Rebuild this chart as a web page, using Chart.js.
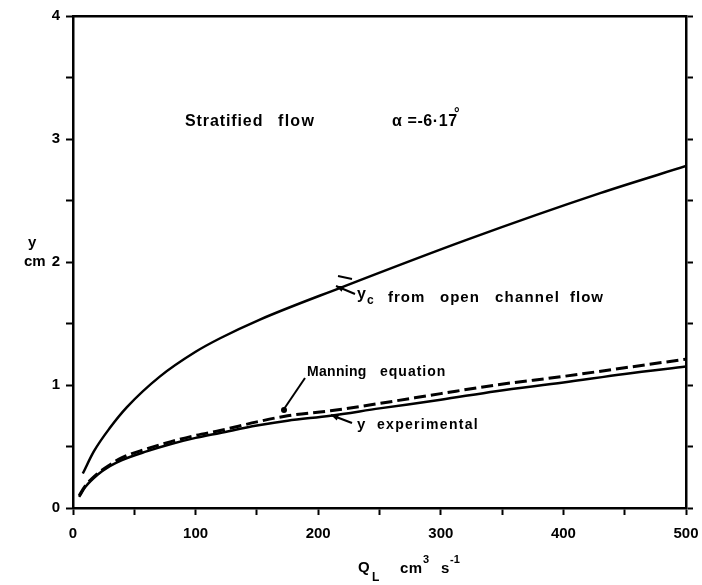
<!DOCTYPE html>
<html><head><meta charset="utf-8">
<script src="https://cdn.jsdelivr.net/npm/chart.js@4/dist/chart.umd.min.js"></script>
<style>html,body{margin:0;padding:0;background:#fff}canvas{display:block}</style>
</head><body>
<canvas id="c" width="702" height="585"></canvas>
<script>
// Q_L (cm^3/s) and depth y (cm)
const qOpenChannel = [8, 17, 30, 44, 71, 100, 120, 152, 218, 321, 430, 500];
const yOpenChannel = [0.28, 0.46, 0.65, 0.82, 1.07, 1.27, 1.38, 1.53, 1.79, 2.18, 2.56, 2.78];

const qLower = [5, 10, 20, 30, 40, 60, 80, 100, 120, 150, 175, 210, 250, 300, 345, 400, 450, 500];
const yExperimental = [0.09, 0.17, 0.27, 0.34, 0.39, 0.46, 0.52, 0.57, 0.61, 0.67, 0.71, 0.75, 0.81, 0.88, 0.95, 1.02, 1.09, 1.15];
const yManning = [0.10, 0.18, 0.28, 0.35, 0.41, 0.48, 0.54, 0.59, 0.63, 0.70, 0.75, 0.79, 0.85, 0.93, 1.00, 1.07, 1.14, 1.21];

const xTickLabels = [0, 100, 200, 300, 400, 500];
const yTickLabels = [0, 1, 2, 3, 4];

const FONT = '"Liberation Sans", Arial, sans-serif';
const pts = (xs, ys) => xs.map((x, i) => ({x, y: ys[i]}));

function txt(ctx, s, x, y, size, spacing) {
  ctx.font = `bold ${size}px ${FONT}`;
  ctx.letterSpacing = spacing + 'px';
  ctx.textAlign = 'left';
  ctx.textBaseline = 'middle';
  ctx.fillStyle = '#000';
  ctx.fillText(s, x, y);
}
function arrow(ctx, x1, y1, x2, y2) {
  ctx.beginPath(); ctx.moveTo(x1, y1); ctx.lineTo(x2, y2); ctx.stroke();
  const a = Math.atan2(y2 - y1, x2 - x1), L = 8;
  ctx.beginPath();
  ctx.moveTo(x2, y2);
  ctx.lineTo(x2 - L * Math.cos(a - 0.4), y2 - L * Math.sin(a - 0.4));
  ctx.lineTo(x2 - L * Math.cos(a + 0.4), y2 - L * Math.sin(a + 0.4));
  ctx.closePath(); ctx.fill();
}

const annot = {
  id: 'annot',
  beforeDraw(chart) {
    const ctx = chart.ctx;
    ctx.save(); ctx.fillStyle = '#fff'; ctx.fillRect(0, 0, chart.width, chart.height); ctx.restore();
  },
  afterDraw(chart) {
    const ctx = chart.ctx;
    ctx.save();
    ctx.strokeStyle = '#000'; ctx.fillStyle = '#000'; ctx.lineWidth = 2;
    // title texts
    txt(ctx, 'Stratified', 185, 122, 16, 0.9);
    txt(ctx, 'flow', 278, 122, 16, 1.3);
    txt(ctx, 'α =-6·17', 392, 122, 16, 0.6);
    txt(ctx, '°', 454, 114, 14, 0);
    // y_c label
    txt(ctx, 'y', 357, 295, 16, 0);
    txt(ctx, 'c', 367, 301, 12, 0);
    txt(ctx, 'from', 388, 298, 15, 1);
    txt(ctx, 'open', 440, 298, 15, 1);
    txt(ctx, 'channel', 495, 298, 15, 1.2);
    txt(ctx, 'flow', 570, 298, 15, 1);
    arrow(ctx, 355, 294, 336, 286);
    ctx.beginPath(); ctx.moveTo(338, 276); ctx.lineTo(352, 279); ctx.stroke();
    // Manning equation
    txt(ctx, 'Manning', 307, 372, 14, 0.3);
    txt(ctx, 'equation', 380, 372, 14, 1);
    ctx.beginPath(); ctx.moveTo(305, 378); ctx.lineTo(284, 409); ctx.stroke();
    ctx.beginPath(); ctx.arc(284, 410, 3, 0, Math.PI * 2); ctx.fill();
    // y experimental
    txt(ctx, 'y', 357, 425, 15, 0);
    txt(ctx, 'experimental', 377, 425, 14, 1.3);
    arrow(ctx, 352, 423, 331, 415);
    // axis titles
    txt(ctx, 'y', 28, 243, 15, 0);
    txt(ctx, 'cm', 24, 262, 15, 0);
    txt(ctx, 'Q', 358, 568, 15, 0);
    txt(ctx, 'L', 372, 578, 12, 0);
    txt(ctx, 'cm', 400, 569, 15, 0.5);
    txt(ctx, '3', 423, 560, 11, 0);
    txt(ctx, 's', 441, 569, 15, 0);
    txt(ctx, '-1', 450, 560, 11, 0);
    ctx.restore();
  }
};

const tickFont = {family: FONT, size: 15, weight: 'bold'};
const gridOpts = {drawOnChartArea: false, drawTicks: true, tickLength: 7, tickColor: '#000', tickWidth: 2};
const borderOpts = {display: true, color: '#000', width: 2.5};

new Chart(document.getElementById('c'), {
  type: 'scatter',
  data: {
    datasets: [
      {data: pts(qOpenChannel, yOpenChannel), showLine: true, borderColor: '#000', borderWidth: 2.5, pointRadius: 0, cubicInterpolationMode: 'monotone', fill: false},
      {data: pts(qLower, yExperimental), showLine: true, borderColor: '#000', borderWidth: 2.5, pointRadius: 0, cubicInterpolationMode: 'monotone', fill: false},
      {data: pts(qLower, yManning), showLine: true, borderColor: '#000', borderWidth: 3, borderDash: [12, 5], pointRadius: 0, cubicInterpolationMode: 'monotone', fill: false}
    ]
  },
  options: {
    responsive: false,
    animation: false,
    devicePixelRatio: 1,
    layout: {padding: {left: 0, right: 0, top: 16, bottom: 0}},
    plugins: {legend: {display: false}, tooltip: {enabled: false}},
    scales: {
      x: {
        type: 'linear', position: 'bottom', min: 0, max: 500,
        ticks: {stepSize: 50, autoSkip: false, maxRotation: 0, color: '#000', font: tickFont, padding: 10,
          callback: v => xTickLabels.includes(v) ? String(v) : ''},
        grid: gridOpts, border: borderOpts,
        afterFit: s => { s.height = 77; s.paddingLeft = 0; s.paddingRight = 0; }
      },
      x2: {
        type: 'linear', position: 'top', min: 0, max: 500,
        ticks: {display: false}, grid: {display: false}, border: borderOpts,
        afterFit: s => { s.height = 0; s.paddingLeft = 0; s.paddingRight = 0; }
      },
      y: {
        type: 'linear', position: 'left', min: 0, max: 4,
        ticks: {stepSize: 0.5, autoSkip: false, color: '#000', font: tickFont, padding: 6,
          callback: v => yTickLabels.includes(v) ? String(v) : ''},
        grid: gridOpts, border: borderOpts,
        afterFit: s => { s.width = 73; s.paddingTop = 0; s.paddingBottom = 0; }
      },
      y2: {
        type: 'linear', position: 'right', min: 0, max: 4,
        ticks: {stepSize: 0.5, autoSkip: false, color: 'rgba(0,0,0,0)', font: tickFont, padding: 0, callback: () => ''},
        grid: gridOpts, border: borderOpts,
        afterFit: s => { s.width = 16; s.paddingTop = 0; s.paddingBottom = 0; }
      }
    }
  },
  plugins: [annot]
});
</script>
</body></html>
